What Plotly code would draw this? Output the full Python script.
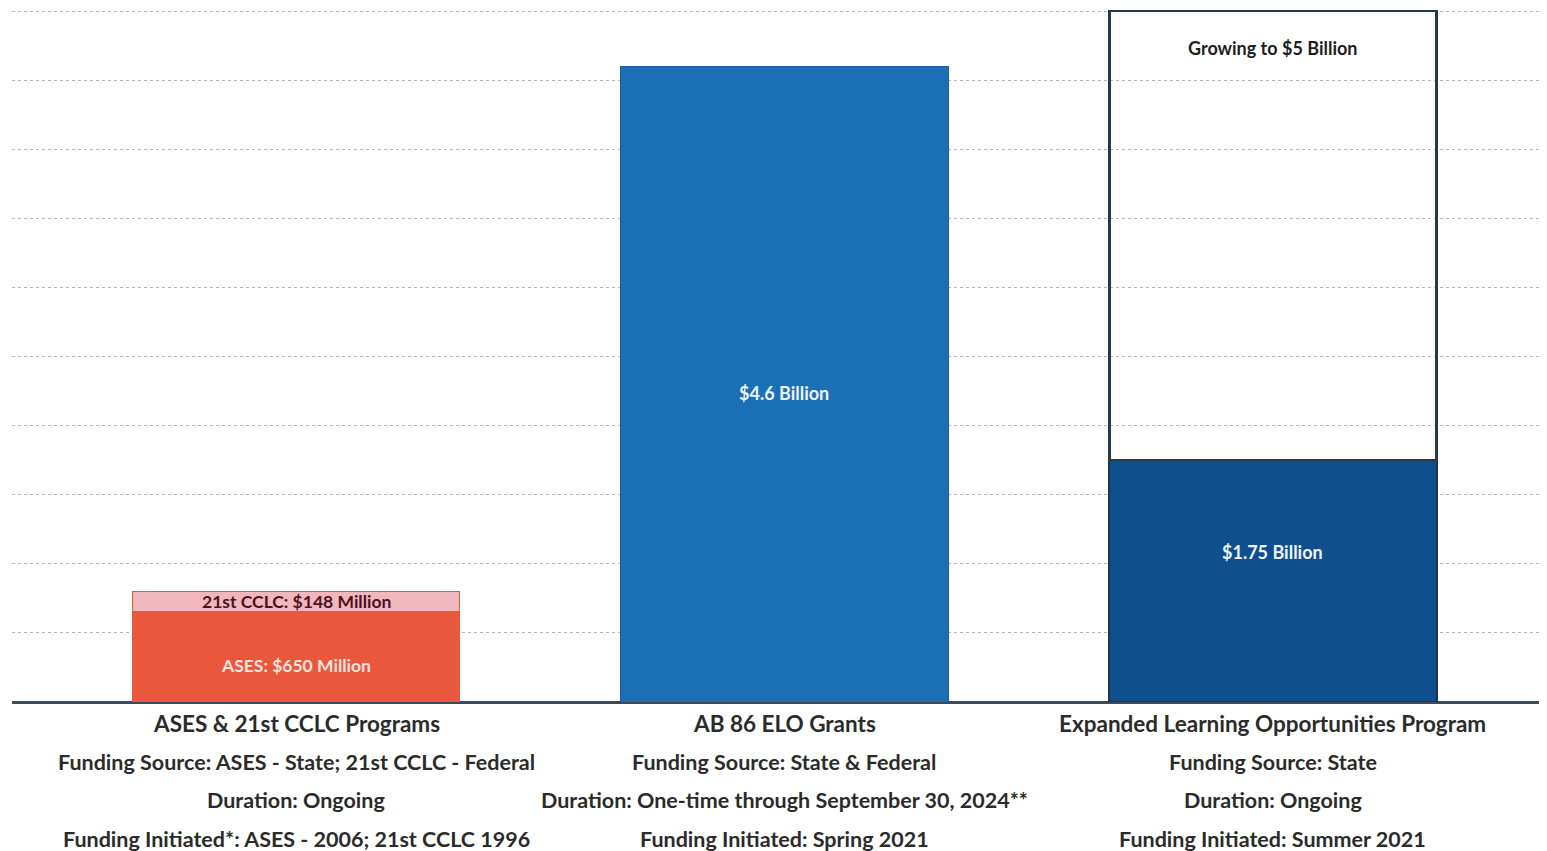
import plotly.graph_objects as go

# ---- data ----
categories = [0, 1, 2]
ases = [0.65, None, None]          # billions
cclc = [0.148, None, None]
elo_grants = [None, 4.6, None]
elop_current = [None, None, 1.75]
elop_growth = [None, None, 3.25]   # growing to 5.0 total

seg_labels = {
    "cclc": "21st CCLC: $148 Million",
    "ases": "ASES: $650 Million",
    "elo": "$4.6 Billion",
    "elop": "$1.75 Billion",
    "growth": "Growing to $5 Billion",
}

cat_titles = ["ASES & 21st CCLC Programs", "AB 86 ELO Grants", "Expanded Learning Opportunities Program"]
cat_source = ["Funding Source: ASES - State; 21st CCLC - Federal", "Funding Source: State & Federal", "Funding Source: State"]
cat_duration = ["Duration: Ongoing", "Duration: One-time through September 30, 2024**", "Duration: Ongoing"]
cat_initiated = ["Funding Initiated*: ASES - 2006; 21st CCLC 1996", "Funding Initiated: Spring 2021", "Funding Initiated: Summer 2021"]

FONT = "Lato"
W = 0.67

fig = go.Figure()
fig.add_trace(go.Bar(x=categories, y=ases, width=W, marker=dict(color="#e9583c", line=dict(color="#e9583c", width=1)), hoverinfo="skip"))
fig.add_trace(go.Bar(x=categories, y=cclc, width=W, marker=dict(color="#f2b6bd", line=dict(color="#e9583c", width=1.5)), hoverinfo="skip"))
fig.add_trace(go.Bar(x=categories, y=elo_grants, width=W, marker=dict(color="#1b6fb5", line=dict(color="#1a5f9c", width=1)), hoverinfo="skip"))
fig.add_trace(go.Bar(x=categories, y=elop_current, width=W, marker=dict(color="#0f4f8e", line=dict(color="#1f3550", width=2)), hoverinfo="skip"))
fig.add_trace(go.Bar(x=categories, y=elop_growth, width=W, marker=dict(color="rgba(255,255,255,0)", line=dict(color="#2a3a4e", width=2.5)), hoverinfo="skip"))

# segment labels (positions derived from data)
def lab(x, y, text, color, size=18):
    fig.add_annotation(x=x, y=y, text=f"<b>{text}</b>", showarrow=False, xref="x", yref="y",
                       font=dict(family=FONT, size=size, color=color))

lab(0, ases[0] + cclc[0] * 0.5, seg_labels["cclc"], "#4a1222", 17.5)
lab(0, ases[0] * 0.41, seg_labels["ases"], "#fbe3df", 17.5)
lab(1, elo_grants[1] * 0.486, seg_labels["elo"], "#eef4fb")
lab(2, elop_current[2] * 0.62, seg_labels["elop"], "#eef4fb")
lab(2, elop_current[2] + elop_growth[2] * 0.917, seg_labels["growth"], "#1e1e1e")

# category text blocks below axis (pixel offsets below the baseline)
for i, c in enumerate(categories):
    lines = [(cat_titles[i], 22.5), (cat_source[i], 21.5), (cat_duration[i], 21.5), (cat_initiated[i], 21.5)]
    for k, (t, sz) in enumerate(lines):
        fig.add_annotation(x=c, y=0, xref="x", yref="paper", yshift=-21 - 38.7 * k,
                           text=f"<b>{t}</b>", showarrow=False, yanchor="middle",
                           font=dict(family=FONT, size=sz, color="#2b2b2b"))

fig.update_layout(
    barmode="stack",
    showlegend=False,
    width=1539, height=843,
    margin=dict(l=4, r=0, t=0, b=149),
    paper_bgcolor="white", plot_bgcolor="white",
    xaxis=dict(range=[-0.5814, 2.561], showticklabels=False, showgrid=False, zeroline=False, showline=False, fixedrange=True),
    yaxis=dict(range=[0, 5.022], dtick=0.5, showticklabels=False, showgrid=True, gridcolor="#b8b8b8",
               griddash="dot", gridwidth=1, zeroline=True, zerolinecolor="#3d4a58", zerolinewidth=2.5, showline=False, fixedrange=True),
)

fig.write_html("out.html", config={"displayModeBar": False})
